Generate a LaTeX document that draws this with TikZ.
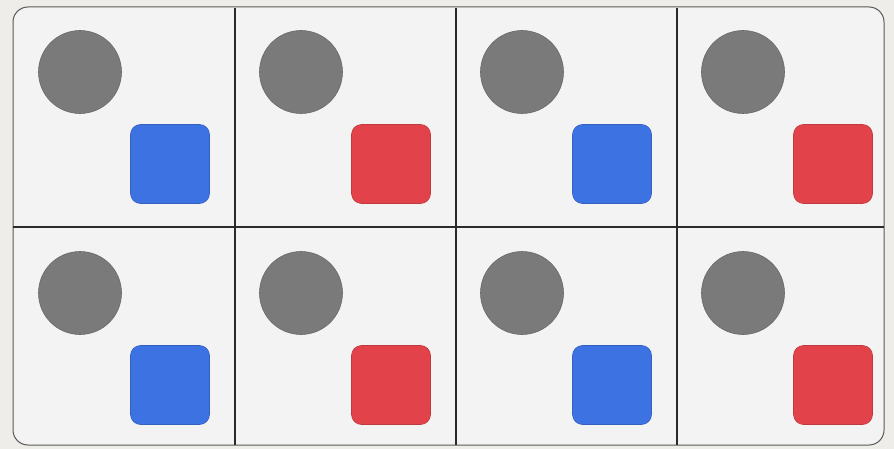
\documentclass[tikz,border=0pt]{standalone}
\usetikzlibrary{calc}
\definecolor{bgc}{HTML}{EFEDEA}
\definecolor{cellc}{HTML}{F3F3F3}
\definecolor{dotc}{HTML}{7A7A7A}
\definecolor{bluec}{HTML}{3D72E2}
\definecolor{redc}{HTML}{E2434A}
\definecolor{linec}{HTML}{2A2A2A}
\tikzset{
  dotshape/.style={circle, fill=dotc, minimum size=83pt, inner sep=0pt, draw=dotc!85!black, line width=0.6pt},
  sqshape/.style={rectangle, rounded corners=10pt, minimum size=79pt, inner sep=0pt, line width=0.6pt},
  bluesq/.style={sqshape, fill=bluec, draw=bluec!85!black},
  redsq/.style={sqshape, fill=redc, draw=redc!85!black},
  grid line/.style={draw=linec, line width=1.4pt},
}
\begin{document}
\begin{tikzpicture}[x=1pt,y=-1pt]
\useasboundingbox (0,0) rectangle (894,449);
\fill[bgc] (0,0) rectangle (894,449);
\fill[cellc, draw=gray!70!black, line width=1pt, rounded corners=15pt] (13,7) rectangle (884,445);
% grid lines
\coordinate (v1t) at (235,8); \coordinate (v1b) at (235,445);
\coordinate (v2t) at (456,8); \coordinate (v2b) at (456,445);
\coordinate (v3t) at (677,8); \coordinate (v3b) at (677,445);
\coordinate (hl) at (13,227); \coordinate (hr) at (884,227);
\path[grid line] (v1t) -- (v1b) (v2t) -- (v2b) (v3t) -- (v3b) (hl) -- (hr);
% shapes
\foreach \c/\x in {0/0,1/221,2/442,3/663}{
  \foreach \r/\y in {0/0,1/221}{
    \node[dotshape] (dot-\c-\r) at (80+\x,72+\y) {};
  }
}
\foreach \c/\x/\s in {0/0/bluesq,1/221/redsq,2/442/bluesq,3/663/redsq}{
  \foreach \r/\y in {0/0,1/221}{
    \node[\s] (sq-\c-\r) at (170+\x,164+\y) {};
  }
}
\end{tikzpicture}
\end{document}
